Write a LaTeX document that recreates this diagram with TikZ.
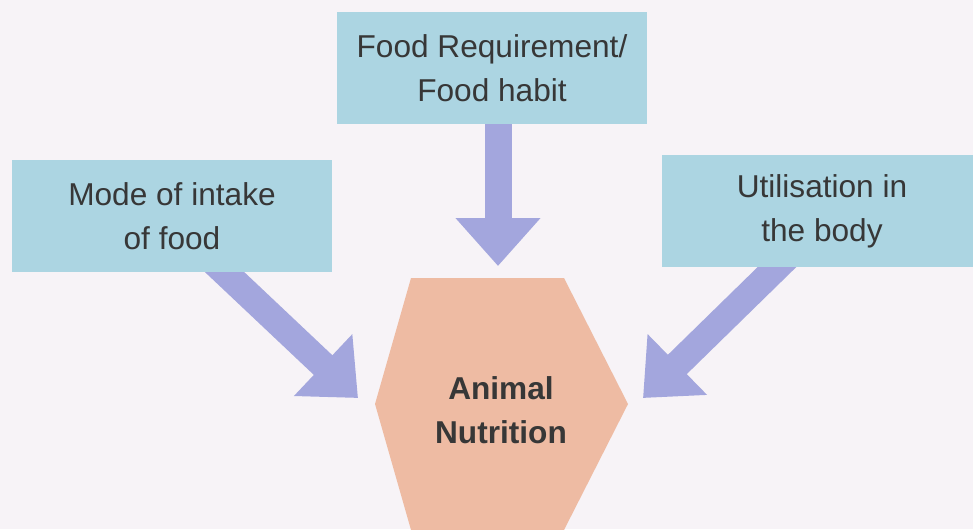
\documentclass[tikz,border=0pt]{standalone}
\usepackage{fontspec}
\setsansfont{Liberation Sans}
\usetikzlibrary{arrows.meta,positioning,calc,backgrounds}
\definecolor{boxblue}{RGB}{172,213,226}
\definecolor{arrowlav}{RGB}{163,166,221}
\definecolor{hexpeach}{RGB}{238,187,163}
\definecolor{inkgray}{RGB}{55,55,55}
\definecolor{paper}{RGB}{247,243,247}
\tikzstyle{infobox}=[rectangle,fill=boxblue,minimum height=2.24cm,inner sep=0pt,align=center,font=\sffamily\fontsize{18}{25}\selectfont,text=inkgray]
\tikzstyle{hexlabel}=[align=center,font=\sffamily\bfseries\fontsize{18}{25}\selectfont,text=inkgray]
\tikzstyle{flow}=[arrowlav,line width=0.54cm,-{Triangle[width=1.64cm,length=0.96cm]}]

\begin{document}
\begin{tikzpicture}[x=0.02cm,y=-0.02cm]
\useasboundingbox (0,0) rectangle (973,529);

%Hexagon
\fill[hexpeach] (411,278) -- (564,278) -- (628,404) -- (564,530) -- (411,530) -- (375,404) -- cycle;
\node[hexlabel] (nut) at (501,410) {Animal\\Nutrition};

%Boxes
    \foreach \pos/\name/\w/\label in {{(492,68)/req/6.22cm/{Food Requirement/\\Food habit}}, {(172,216)/mode/6.4cm/{Mode of intake\\of food}}, {(822,211)/use/6.4cm/{Utilisation in\\the body}}}
        \node[infobox, minimum width=\w] (\name) at \pos {\label};

%Arrows
    \coordinate (tipT) at (498,266);
    \coordinate (tipL) at (358,398);
    \coordinate (tipR) at (643,398);

\begin{pgfonlayer}{background}
  \fill[paper] (0,0) rectangle (973,529);
  \draw[flow] ([yshift=0.3cm]req.south -| tipT) -- (tipT);
  \draw[flow] ([xshift=0.74cm,yshift=0.3cm]mode.south) -- (tipL);
  \draw[flow] ([xshift=-0.6cm,yshift=0.3cm]use.south) -- (tipR);
\end{pgfonlayer}

\end{tikzpicture}
\end{document}
